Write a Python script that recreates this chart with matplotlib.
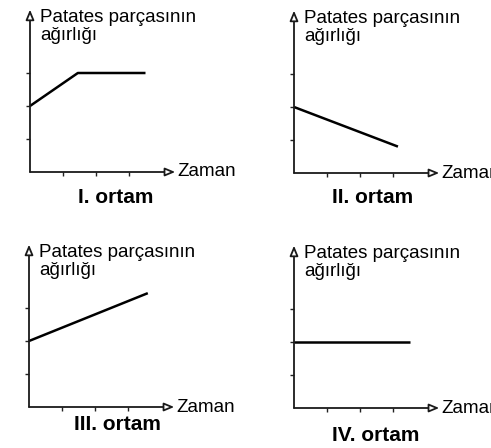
import matplotlib
matplotlib.use('Agg')
import matplotlib.pyplot as plt

plt.rcParams['font.family'] = ['Liberation Sans', 'DejaVu Sans']

# time / weight curves for the four media
x_I = [0, 1.45, 3.5]
y_I = [2, 3, 3]
x_II = [0, 3.15]
y_II = [2, 0.8]
x_III = [0, 3.6]
y_III = [2, 3.45]
x_IV = [0, 3.5]
y_IV = [2, 2]

titles = ['I. ortam', 'II. ortam', 'III. ortam', 'IV. ortam']
ylabel = 'Patates parçasının\nağırlığı'
xlabel = 'Zaman'
ticks = [1, 2, 3]

W, H = 491, 448
U = 33  # pixels per unit
# origin of each panel in pixels (from top-left) and title placement
origins = [(30, 172), (294, 173), (29, 407), (294, 408)]
title_pos = [(2.6, -0.76), (2.38, -0.74), (2.68, -0.53), (2.48, -0.83)]
series = [(x_I, y_I), (x_II, y_II), (x_III, y_III), (x_IV, y_IV)]

fig = plt.figure(figsize=(W / 100, H / 100), dpi=100)
fig.patch.set_facecolor('white')

for (ox, oy), (xs, ys), title, (tx, ty) in zip(origins, series, titles, title_pos):
    ax = fig.add_axes([ox / W, (H - oy) / H, 4.5 * U / W, 5.0 * U / H])
    ax.set_xlim(0, 4.5)
    ax.set_ylim(0, 5.0)
    for s in ax.spines.values():
        s.set_visible(False)
    ax.set_xticks(ticks)
    ax.set_yticks(ticks)
    ax.set_xticklabels([])
    ax.set_yticklabels([])
    ax.tick_params(length=3, width=1, color='#222222', direction='out')
    ax.patch.set_alpha(0)

    arrow = dict(arrowstyle='-|>,head_length=0.6,head_width=0.25', lw=1.3,
                 color='#1a1a1a', fc='white', shrinkA=0, shrinkB=0)
    ax.annotate('', xy=(4.4, 0), xytext=(0, 0), arrowprops=arrow, annotation_clip=False)
    ax.annotate('', xy=(0, 4.92), xytext=(0, 0), arrowprops=arrow, annotation_clip=False)

    ax.plot(xs, ys, color='black', lw=1.8, solid_capstyle='butt', clip_on=False)

    ax.text(0.3, 4.93, ylabel, ha='left', va='top', fontsize=13.5,
            linespacing=1.05, clip_on=False)
    ax.text(4.48, 0, xlabel, ha='left', va='center', fontsize=13.5, clip_on=False)
    ax.text(tx, ty, title, ha='center', va='center', fontsize=15,
            fontweight='bold', clip_on=False)

fig.savefig('out.png', dpi=100, facecolor='white')
